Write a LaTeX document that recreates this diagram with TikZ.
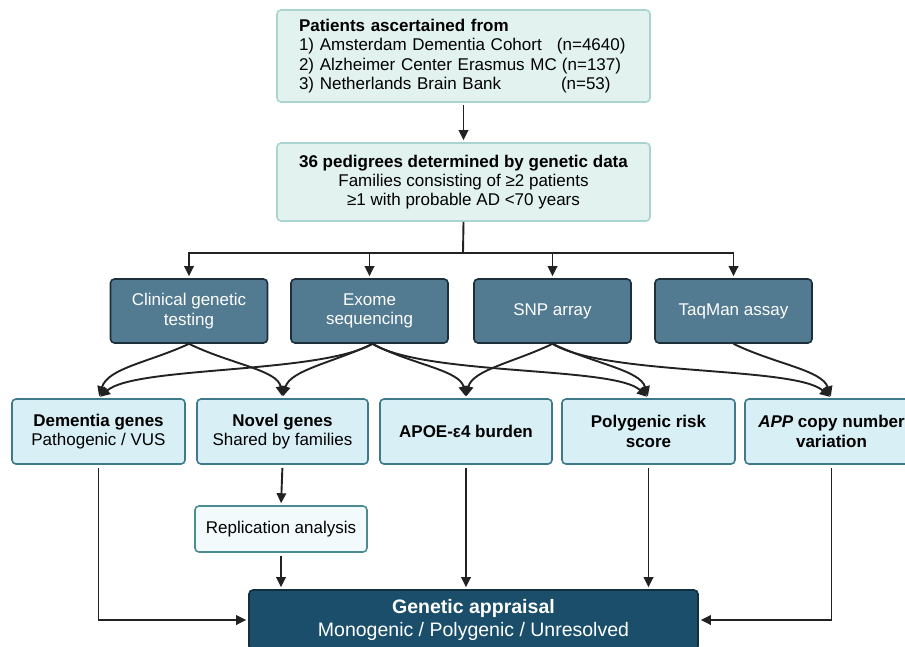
\documentclass[tikz,border=0pt]{standalone}
\usepackage{fontspec}
\setmainfont{Liberation Sans}
\usetikzlibrary{arrows.meta}
\definecolor{topfill}{HTML}{E2F2EF}
\definecolor{topdraw}{HTML}{A9D4CF}
\definecolor{darkfill}{HTML}{527A90}
\definecolor{darkdraw}{HTML}{1C2F3A}
\definecolor{lightfill}{HTML}{D8EFF6}
\definecolor{lightdraw}{HTML}{3E7A8A}
\definecolor{repfill}{HTML}{F2FAFC}
\definecolor{repdraw}{HTML}{4B8C93}
\definecolor{genfill}{HTML}{1A4E6B}
\definecolor{gendraw}{HTML}{132E3D}
\definecolor{linec}{HTML}{222222}
\tikzset{
  basebox/.style={rounded corners=4pt, line width=1.6pt, inner sep=0pt, align=center,
    font=\fontsize{17}{19.2}\selectfont},
  topbox/.style={basebox, fill=topfill, draw=topdraw, minimum width=373pt},
  darkbox/.style={basebox, fill=darkfill, draw=darkdraw, text=white, minimum width=157pt, minimum height=64pt},
  lightbox/.style={basebox, fill=lightfill, draw=lightdraw, minimum width=172pt, minimum height=65pt},
  repbox/.style={basebox, fill=repfill, draw=repdraw, minimum width=172pt, minimum height=46pt},
  genbox/.style={basebox, fill=genfill, draw=gendraw, text=white, minimum width=449pt, minimum height=60pt,
    font=\fontsize{19.5}{23}\selectfont},
  conn/.style={draw=linec, line width=1.9pt, -{Triangle[length=10pt,width=9.5pt]}, shorten >=2pt},
}
\begin{document}
\begin{tikzpicture}[x=1pt,y=-1pt]
\useasboundingbox (0,0) rectangle (905,646);
% top boxes
\node[topbox, minimum height=92pt, align=left, text width=329pt] (top) at (463.5,56)
  {\textbf{Patients ascertained from}\\
   \makebox[258pt][l]{1) Amsterdam Dementia Cohort}(n=4640)\\
   \makebox[263pt][l]{2) Alzheimer Center Erasmus MC}(n=137)\\
   \makebox[262pt][l]{3) Netherlands Brain Bank}(n=53)};
\node[topbox, minimum height=78pt] (ped) at (463.5,182)
  {\textbf{36 pedigrees determined by genetic data}\\
   Families consisting of ≥2 patients\\
   ≥1 with probable AD <70 years};
% method boxes
\node[darkbox] (cl) at (189,311) {Clinical genetic\\testing};
\node[darkbox] (ex) at (369.5,311) {Exome\\sequencing};
\node[darkbox] (snp) at (552.5,311) {SNP array};
\node[darkbox] (taq) at (733.5,311) {TaqMan assay};
% result boxes
\node[lightbox, minimum width=173pt] (dem) at (98.5,431.5) {\textbf{Dementia genes}\\Pathogenic / VUS};
\node[lightbox, minimum width=171pt] (nov) at (282.5,431.5) {\textbf{Novel genes}\\Shared by families};
\node[lightbox] (apoe) at (466,431.5) {\textbf{APOE-ε4 burden}};
\node[lightbox, minimum width=173pt] (prs) at (648.5,431.5) {\textbf{Polygenic risk}\\\textbf{score}};
\node[lightbox, minimum width=173pt] (app) at (831.5,431.5) {\textbf{\textit{APP} copy number}\\\textbf{variation}};
\node[repbox] (rep) at (281,529) {Replication analysis};
\node[genbox] (gen) at (473.5,620) {\textbf{Genetic appraisal}\\Monogenic / Polygenic / Unresolved};
% connectors
\draw[conn, shorten <=2pt] (top) -- (ped);
\coordinate (br) at (463,253);
\draw[draw=linec, line width=1.9pt] (ped.south) -- (br);
\draw[conn] (br) -| (cl.north);
\draw[conn] (br) -| (ex.north);
\draw[conn] (br) -| (snp.north);
\draw[conn] (br) -| (taq.north);
% curves
\draw[conn] (cl.south) .. controls (150,362) and (108,368) .. (dem.north);
\draw[conn] (cl.south) .. controls (230,364) and (278,370) .. (nov.north);
\draw[conn] ([xshift=3pt]ex.south) .. controls (320,374) and (135,366) .. (dem.north);
\draw[conn] ([xshift=3pt]ex.south) .. controls (335,362) and (290,370) .. (nov.north);
\draw[conn] ([xshift=3pt]ex.south) .. controls (410,364) and (460,370) .. (apoe.north);
\draw[conn] ([xshift=3pt]ex.south) .. controls (425,376) and (615,366) .. (prs.north);
\draw[conn] (snp.south) .. controls (515,362) and (472,370) .. (apoe.north);
\draw[conn] (snp.south) .. controls (595,364) and (640,370) .. (prs.north);
\draw[conn] (snp.south) .. controls (605,376) and (795,366) .. (app.north);
\draw[conn] (taq.south) .. controls (775,364) and (822,370) .. (app.north);
% bottom
\draw[conn, shorten <=3pt] (dem.south) |- (gen.west);
\draw[conn, shorten <=3pt] (app.south) |- (gen.east);
\draw[conn, shorten <=3pt] (nov.south) -- (rep.north);
\draw[conn, shorten <=3pt] (rep.south) -- (rep.south |- gen.north);
\draw[conn, shorten <=3pt] (apoe.south) -- (apoe.south |- gen.north);
\draw[conn, shorten <=3pt] (prs.south) -- (prs.south |- gen.north);
\end{tikzpicture}
\end{document}
